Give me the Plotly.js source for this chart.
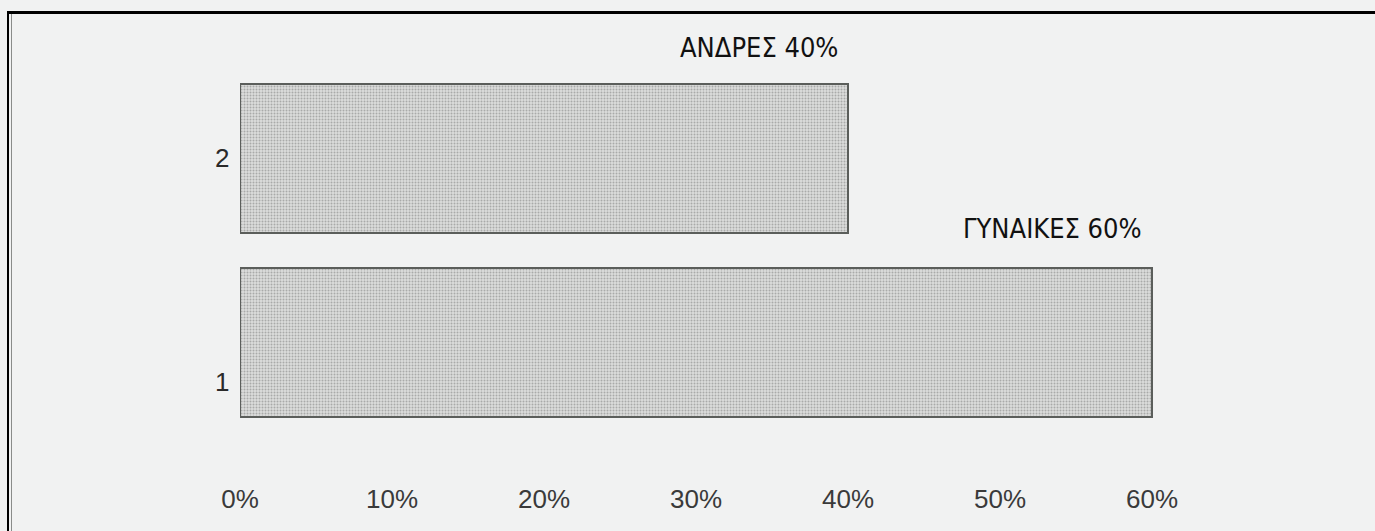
<!DOCTYPE html>
<html>
<head>
<meta charset="utf-8">
<script src="https://cdn.plot.ly/plotly-3.0.1.min.js"></script>
<style>
  html, body { margin: 0; padding: 0; background: #f1f2f2; }
  #wrap { position: relative; width: 1375px; height: 531px; overflow: hidden; }
  #chart { width: 1375px; height: 531px; }
  .frame-top { position: absolute; left: 7px; top: 11px; width: 1368px; height: 3px; background: #000; pointer-events: none; }
  .frame-left { position: absolute; left: 7px; top: 11px; width: 2px; height: 520px; background: #000; pointer-events: none; }
  .frame-left2 { position: absolute; left: 11px; top: 14px; width: 1px; height: 517px; background: #8a8c8a; pointer-events: none; }
</style>
</head>
<body>
<div id="wrap">
  <div id="chart"></div>
  <div class="frame-top"></div>
  <div class="frame-left"></div>
  <div class="frame-left2"></div>
</div>
<script>
// ---- data ----
const categories = ['1', '2'];
const shares = [0.60, 0.40];
const barLabels = ['ΓΥΝΑΙΚΕΣ 60%', 'ΑΝΔΡΕΣ 40%'];
const tickValues = [0, 0.1, 0.2, 0.3, 0.4, 0.5, 0.6];
const tickLabels = ['0%', '10%', '20%', '30%', '40%', '50%', '60%'];

// ---- style ----
const catLabelShift = [-40, 0];   // vertical offset of category labels (px)
const barLabelShift = [114, 111]; // label height above bar centre (px)

const trace = {
  type: 'bar',
  orientation: 'h',
  y: categories,
  x: shares,
  width: 0.81,
  marker: {
    color: '#d3d4d3',
    line: { color: '#5b5e5b', width: 2 },
    pattern: { shape: '.', fgcolor: '#a9aaa9', bgcolor: '#dcdddc', size: 3, solidity: 0.35 }
  },
  hoverinfo: 'none'
};

const annotations = [];
categories.forEach((c, i) => {
  annotations.push({
    x: shares[i], y: i, xref: 'x', yref: 'y',
    text: barLabels[i], showarrow: false,
    xanchor: 'right', yanchor: 'middle', xshift: -8, yshift: barLabelShift[i],
    font: { family: '"DejaVu Sans Condensed", "Liberation Sans Narrow", "Liberation Sans", sans-serif', size: 27, color: '#111111' }
  });
  annotations.push({
    x: 0, y: i, xref: 'paper', yref: 'y',
    text: c, showarrow: false,
    xanchor: 'right', yanchor: 'middle', xshift: -9, yshift: catLabelShift[i],
    font: { family: '"Liberation Sans", Arial, sans-serif', size: 26, color: '#2a2a2a' }
  });
});

const layout = {
  width: 1375, height: 531,
  margin: { l: 240, r: 71, t: 40, b: 50 },
  paper_bgcolor: '#f1f2f2',
  plot_bgcolor: '#f1f2f2',
  showlegend: false,
  xaxis: {
    range: [0, 0.7],
    tickvals: tickValues, ticktext: tickLabels,
    showgrid: false, zeroline: false, showline: false, ticks: '',
    tickfont: { family: '"Liberation Sans", Arial, sans-serif', size: 26, color: '#3a3a3a' },
    fixedrange: true
  },
  yaxis: {
    type: 'category',
    range: [-0.753, 1.644],
    showticklabels: false,
    showgrid: false, zeroline: false, showline: false, ticks: '',
    fixedrange: true
  },
  annotations: annotations
};

Plotly.newPlot('chart', [trace], layout, { displayModeBar: false, staticPlot: true });
</script>
</body>
</html>
